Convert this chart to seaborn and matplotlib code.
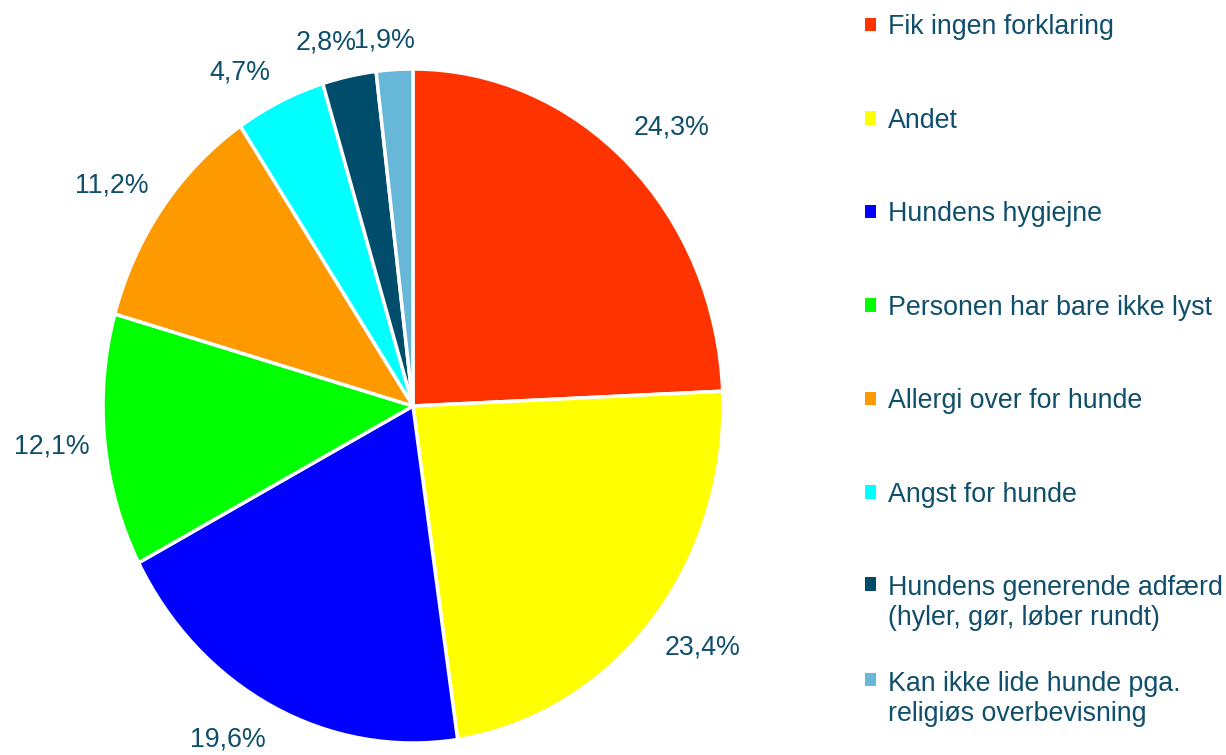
import matplotlib
matplotlib.use("Agg")
import numpy as np
import matplotlib.pyplot as plt
import matplotlib.patches as mpatches
from matplotlib.legend_handler import HandlerPatch
import seaborn as sns

sns.set_theme(style="white")
plt.rcParams['font.family'] = ['Liberation Sans', 'DejaVu Sans']

categories = [
    "Fik ingen forklaring",
    "Andet",
    "Hundens hygiejne",
    "Personen har bare ikke lyst",
    "Allergi over for hunde",
    "Angst for hunde",
    "Hundens generende adfærd\n(hyler, gør, løber rundt)",
    "Kan ikke lide hunde pga.\nreligiøs overbevisning",
]
values = [24.3, 23.4, 19.6, 12.1, 11.2, 4.7, 2.8, 1.9]
labels = ["24,3%", "23,4%", "19,6%", "12,1%", "11,2%", "4,7%", "2,8%", "1,9%"]

colors = ["#FF3300", "#FFFF00", "#0000FF", "#00FF00", "#FF9900",
          "#00FFFF", "#004D6B", "#66B7D8"]
text_color = "#0F4F6B"
# label placement: radial distance and angular nudge (degrees)
label_dist = [1.174, 1.179, 1.157, 1.171, 1.172, 1.137, 1.116, 1.090]
label_nudge = [-1.5, 2.1, -4.1, 0.0, 2.0, 4.0, 2.7, 1.5]
FS = 19.3
MARKER_SHIFT = 14.4  # points, aligns marker with first line of two-line entries


def top_marker(legend, orig_handle, xdescent, ydescent, width, height, fontsize):
    return mpatches.Rectangle((-xdescent, -ydescent + MARKER_SHIFT), width, height)


fig = plt.figure(figsize=(12.26, 7.55), dpi=100)
ax = fig.add_axes([103 / 1226, 12 / 755, 620 / 1226, 674 / 755])

wedges, texts = ax.pie(values, colors=colors, startangle=90, counterclock=False,
                       wedgeprops=dict(edgecolor="white", linewidth=2.5),
                       labels=labels, labeldistance=1.0,
                       textprops=dict(color=text_color, fontsize=FS))
for w, t, d, nd in zip(wedges, texts, label_dist, label_nudge):
    mid = np.deg2rad((w.theta1 + w.theta2) / 2 + nd)
    t.set_position((d * np.cos(mid), d * np.sin(mid)))
    t.set_ha("center")
    t.set_va("center")
    t.set_clip_on(False)
ax.set_aspect("auto")
ax.set_xlim(-1, 1)
ax.set_ylim(-1, 1)
ax.axis("off")

handler_map = {w: HandlerPatch(patch_func=top_marker)
               for w, c in zip(wedges, categories) if "\n" in c}
common = dict(loc="upper left", frameon=False, fontsize=FS,
              handlelength=0.41, handleheight=0.41, handletextpad=0.45,
              borderpad=0, borderaxespad=0, handler_map=handler_map)
leg1 = fig.legend(wedges[:7], categories[:7],
                  bbox_to_anchor=(865 / 1226, 1 - 14 / 755),
                  labelspacing=2.52, **common)
leg2 = fig.legend(wedges[7:], categories[7:],
                  bbox_to_anchor=(865 / 1226, 1 - 671 / 755), **common)
for leg in (leg1, leg2):
    for t in leg.get_texts():
        t.set_color(text_color)
    for h in leg.legend_handles:
        h.set_edgecolor("none")

fig.savefig("out.png", dpi=100, facecolor="white")
